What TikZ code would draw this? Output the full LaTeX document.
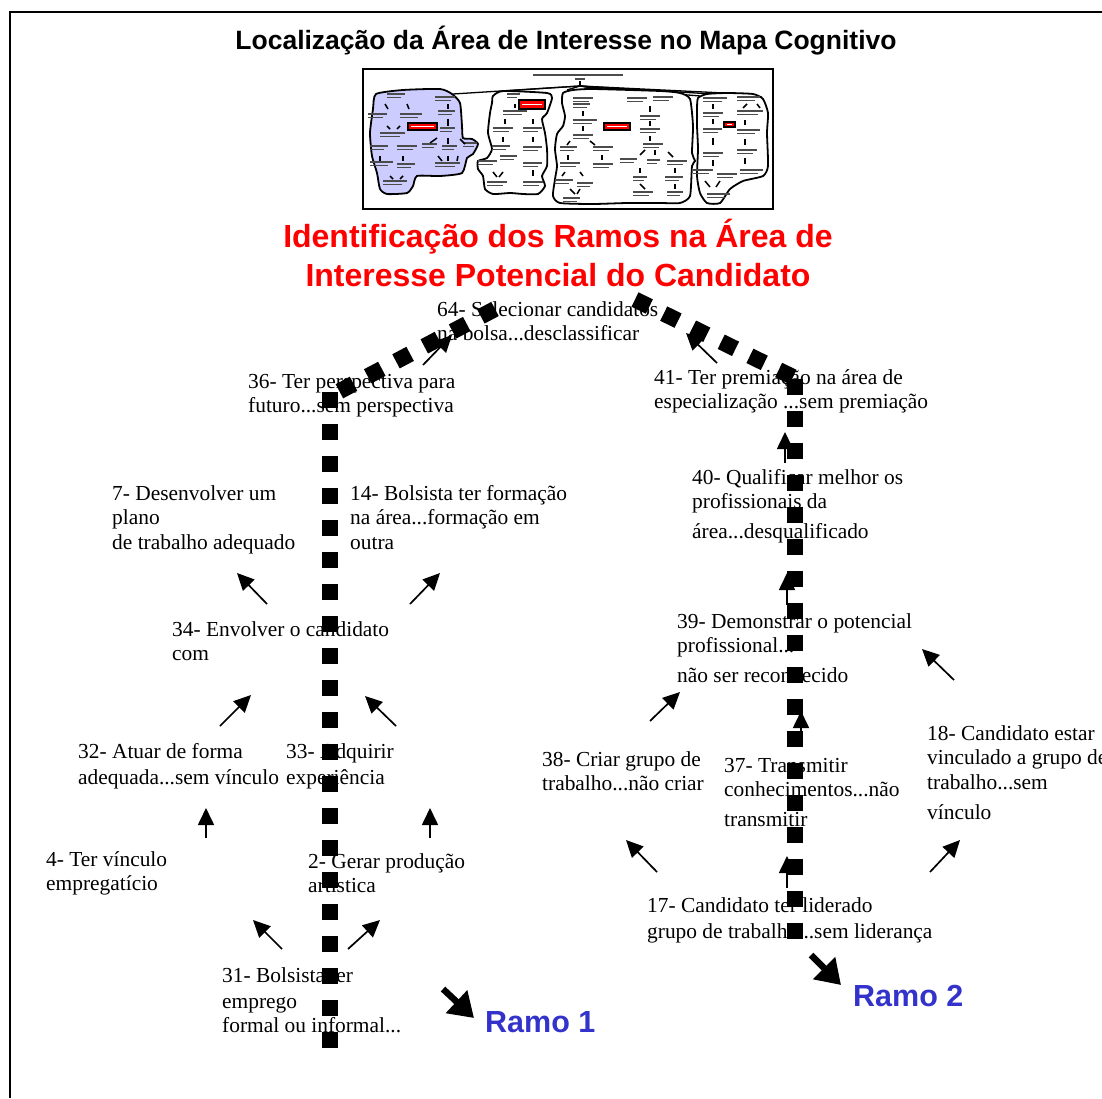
\documentclass[tikz,border=0pt]{standalone}
\usepackage{fontspec}
\setmainfont{Liberation Serif}
\newfontfamily\headfont{Liberation Sans}
\usetikzlibrary{arrows.meta}
\definecolor{ramoblue}{HTML}{3333CC}
\definecolor{areafill}{HTML}{CCCCFF}
\definecolor{headred}{HTML}{FF0000}
\newcommand{\conceptlines}[1]{\begin{tabular}[t]{@{}l@{}}#1\end{tabular}}
\tikzset{
  concept/.style={anchor=base west, inner sep=0pt, font=\fontsize{21.4}{24.5}\selectfont},
  link/.style={line width=1.7pt, -{Triangle[length=17pt,width=16pt]}},
  ramolink/.style={line width=6.5pt, -{Triangle[length=24pt,width=30pt]}},
  ramolabel/.style={anchor=base west, inner sep=0pt, text=ramoblue, font=\headfont\bfseries\fontsize{30.5}{34}\selectfont},
  branchpath/.style={line width=16pt, dash pattern=on 16pt off 16pt},
  maptext/.style={black!70, line width=1.1pt},
  mapstroke/.style={black, line width=1.5pt},
  region/.style={draw=black, line width=1.8pt},
}
\begin{document}
\begin{tikzpicture}[x=1pt, y=-1pt]
\useasboundingbox (0,0) rectangle (1102,1098);

% outer frame (left and top edges)
\draw[line width=2pt] (10,1098) -- (10,12) -- (1102,12);

% headings
\node[anchor=base, inner sep=0pt, font=\headfont\bfseries\fontsize{26.5}{30}\selectfont] (maptitle) at (566,49.5) {Localização da Área de Interesse no Mapa Cognitivo};
\node[anchor=base, inner sep=0pt, text=headred, font=\headfont\bfseries\fontsize{32}{39}\selectfont, align=center] (branchtitle) at (558,286.5) {Identificação dos Ramos na Área de\\Interesse Potencial do Candidato};

% ---------- overview map ----------
\draw[line width=1.8pt] (363,69) rectangle (773,209);
% map heading
\draw[maptext, line width=1.6pt] (533,75) -- (623,75);
\draw[maptext] (575,79) -- (585,79);
\draw[mapstroke] (580,81) -- (580,87);
% fan of links from the heading
\coordinate (hub) at (580,86);
\foreach \ex/\ey in {453/94, 503/91, 567/90, 635/95, 655/96, 700/96, 745/94, 762/97}
  \draw[black, line width=1.3pt] (hub) -- (\ex,\ey);
% regions
\draw[region, fill=areafill] plot[smooth cycle, tension=0.35] coordinates {
  (376,94) (403,90) (440,89) (452,94) (460,103) (462,126) (463,138) (472,139) (478,144)
  (473,154) (467,158) (462,173) (440,176) (417,176) (413,186) (407,193) (387,194)
  (380,189) (377,173) (372,156) (370,133) (373,109)};
\draw[region, fill=white] plot[smooth cycle, tension=0.35] coordinates {
  (493,96) (503,91) (547,93) (552,98) (547,113) (542,119) (545,133) (547,149) (547,166)
  (542,176) (545,186) (538,194) (523,194) (510,193) (493,194) (485,189) (483,176)
  (478,169) (478,161) (487,158) (492,149) (488,133) (490,113) (492,103)};
\draw[region, fill=white] plot[smooth cycle, tension=0.35] coordinates {
  (563,93) (573,90) (593,89) (660,91) (680,93) (690,99) (693,126) (692,153) (695,161)
  (692,166) (690,196) (680,203) (660,203) (627,203) (593,204) (560,203) (553,196)
  (555,179) (557,166) (555,149) (557,134) (563,126) (565,116) (562,103)};
\draw[region, fill=white] plot[smooth cycle, tension=0.35] coordinates {
  (698,98) (707,94) (727,93) (753,94) (763,99) (768,113) (767,133) (768,166) (763,176)
  (743,181) (730,189) (720,203) (707,203) (700,193) (697,176) (698,149) (697,126) (697,109)};
% tiny labels inside the regions
\foreach \xa/\xb/\yy in {
  387/405/94, 368/387/114, 400/422/114, 380/405/133, 370/388/146, 397/417/146,
  370/393/162, 397/415/164, 383/407/181, 435/455/97, 438/455/111, 440/455/128,
  422/437/144, 442/457/146, 463/477/143, 435/460/163,
  507/520/94, 503/527/111, 493/513/128, 523/542/128, 492/510/146, 523/542/147,
  478/497/161, 500/517/156, 523/542/163, 487/507/182, 523/543/182,
  573/593/98, 573/590/104, 573/597/120, 573/593/135, 560/577/147, 593/613/147,
  560/580/163, 593/613/164, 555/573/180, 577/593/183, 563/580/198, 627/647/98,
  653/673/97, 640/660/116, 640/660/129, 643/663/144, 620/637/159, 647/660/160,
  667/687/161, 633/647/177, 665/683/177, 633/653/192, 667/683/192,
  703/727/98, 737/760/97, 703/723/113, 737/763/111, 703/722/129, 737/760/130,
  703/723/153, 737/757/150, 693/713/170, 717/737/174, 740/763/170, 707/730/194}
{
  \draw[maptext] (\xa,\yy) -- (\xb,\yy);
  \draw[maptext] (\xa,\yy+3.5) -- ({\xa+0.8*(\xb-\xa)},\yy+3.5);
}
% tiny links inside the regions
\foreach \xa/\ya/\xb/\yb in {
  385/104/388/109, 407/104/409/109, 387/126/390/129, 400/126/397/129,
  380/156/380/161, 403/156/403/161, 390/176/393/179, 403/176/400/179,
  448/104/448/109, 448/119/448/126, 437/138/430/143, 448/138/448/144,
  460/139/465/144, 438/156/442/161, 448/156/448/161, 458/156/457/161,
  515/104/515/108, 505/119/505/124, 533/119/533/124, 503/137/503/142,
  533/137/533/142, 533/170/533/176, 493/172/497/177, 503/172/499/177,
  583/111/583/116, 583/126/583/131, 570/141/567/145, 590/141/595/145,
  568/155/568/160, 602/155/602/160, 565/172/562/176, 580/172/583/176,
  570/189/575/194, 580/189/577/194, 650/106/650/112, 650/121/650/126,
  650/136/650/141, 645/150/640/155, 655/150/655/155, 668/152/673/157,
  640/168/640/173, 675/168/675/173, 640/184/645/189, 675/184/675/189,
  713/104/713/109, 747/104/743/108, 757/104/760/108, 713/119/713/124,
  745/120/745/125, 713/138/713/145, 745/139/745/145, 713/160/713/166,
  745/158/745/164, 705/181/710/187, 720/181/716/187}
  \draw[mapstroke] (\xa,\ya) -- (\xb,\yb);
% highlighted concepts
\foreach \xa/\ya/\xb/\yb in {408/123/437/130, 519/100/545/109, 604/123/630/130, 724/122/735/127}
{
  \draw[black, line width=1.3pt, fill=red] (\xa,\ya) rectangle (\xb,\yb);
  \draw[white, line width=1pt] ({\xa+3},{(\ya+\yb)/2}) -- ({\xb-3},{(\ya+\yb)/2});
}

% ---------- concepts ----------
\node[concept] (c64) at (437,316) {\conceptlines{64- Selecionar candidatos\\na bolsa...desclassificar}};
\node[concept] (c36) at (248,388) {\conceptlines{36- Ter perspectiva para\\futuro...sem perspectiva}};
\node[concept] (c41) at (654,384) {\conceptlines{41- Ter premiação na área de\\especialização ...sem premiação}};
\node[concept] (c40) at (692,484) {\conceptlines{40- Qualificar melhor os\\profissionais da\\[5.5pt]área...desqualificado}};
\node[concept] (c7) at (112,500) {\conceptlines{7- Desenvolver um\\plano\\de trabalho adequado}};
\node[concept] (c14) at (350,500) {\conceptlines{14- Bolsista ter formação\\na área...formação em\\outra}};
\node[concept] (c34) at (172,636) {\conceptlines{34- Envolver o candidato\\com}};
\node[concept] (c39) at (677,628) {\conceptlines{39- Demonstrar o potencial\\profissional...\\[5.5pt]não ser reconhecido}};
\node[concept] (c32) at (78,758) {\conceptlines{32- Atuar de forma\\[1.5pt]adequada...sem vínculo}};
\node[concept] (c33) at (286,758) {\conceptlines{33- Adquirir\\[1.5pt]experiência}};
\node[concept] (c38) at (542,766) {\conceptlines{38- Criar grupo de\\trabalho...não criar}};
\node[concept] (c37) at (724,772) {\conceptlines{37- Transmitir\\conhecimentos...não\\[5.5pt]transmitir}};
\node[concept] (c18) at (927,740) {\conceptlines{18- Candidato estar\\vinculado a grupo de\\trabalho...sem\\[5.5pt]vínculo}};
\node[concept] (c4) at (46,866) {\conceptlines{4- Ter vínculo\\empregatício}};
\node[concept] (c2) at (308,868) {\conceptlines{2- Gerar produção\\artística}};
\node[concept] (c31) at (222,982) {\conceptlines{31- Bolsista ter\\[1.5pt]emprego\\formal ou informal...}};
\node[concept] (c17) at (647,912) {\conceptlines{17- Candidato ter liderado\\[1.5pt]grupo de trabalho...sem liderança}};

\node[ramolabel] (ramo1) at (485,1032) {Ramo 1};
\node[ramolabel] (ramo2) at (853,1006) {Ramo 2};

% ---------- link end points ----------
\coordinate (l36a) at (423,365); \coordinate (l36b) at (452,335);
\coordinate (l41a) at (717,363); \coordinate (l41b) at (686,333);
\coordinate (l40a) at (785,463); \coordinate (l40b) at (785,432);
\coordinate (l39a) at (787,605); \coordinate (l39b) at (787,573);
\coordinate (l347a) at (267,604); \coordinate (l347b) at (237,573);
\coordinate (l3414a) at (410,604); \coordinate (l3414b) at (440,573);
\coordinate (l32a) at (220,726); \coordinate (l32b) at (251,695);
\coordinate (l33a) at (396,726); \coordinate (l33b) at (365,696);
\coordinate (l4a) at (206,838); \coordinate (l4b) at (206,808);
\coordinate (l2a) at (430,838); \coordinate (l2b) at (430,808);
\coordinate (l314a) at (282,949); \coordinate (l314b) at (253,920);
\coordinate (l312a) at (348,949); \coordinate (l312b) at (380,920);
\coordinate (l38a) at (650,721); \coordinate (l38b) at (680,692);
\coordinate (l37a) at (801,742); \coordinate (l37b) at (801,711);
\coordinate (l18a) at (954,680); \coordinate (l18b) at (922,649);
\coordinate (l1738a) at (657,872); \coordinate (l1738b) at (626,840);
\coordinate (l1737a) at (787,888); \coordinate (l1737b) at (787,856);
\coordinate (l1718a) at (930,872); \coordinate (l1718b) at (960,840);
\coordinate (r1a) at (443,989); \coordinate (r1b) at (474,1018);
\coordinate (r2a) at (811,955); \coordinate (r2b) at (841,985);

% ---------- links ----------
\foreach \a/\b in {l36a/l36b, l41a/l41b, l40a/l40b, l39a/l39b, l347a/l347b, l3414a/l3414b,
  l32a/l32b, l33a/l33b, l4a/l4b, l2a/l2b, l314a/l314b, l312a/l312b, l38a/l38b,
  l37a/l37b, l18a/l18b, l1738a/l1738b, l1737a/l1737b, l1718a/l1718b}
  \draw[link] (\a) -- (\b);
\draw[ramolink] (r1a) -- (r1b);
\draw[ramolink] (r2a) -- (r2b);

% ---------- branch paths ----------
\coordinate (b1top) at (495,309); \coordinate (b1bend) at (338,392);
\coordinate (b1vtop) at (330,392); \coordinate (b1end) at (330,1048);
\coordinate (b2top) at (635,299.5); \coordinate (b2bend) at (793,377);
\coordinate (b2vtop) at (795,379); \coordinate (b2end) at (795,939);
\draw[branchpath] (b1top) -- (b1bend);
\draw[branchpath] (b1vtop) -- (b1end);
\draw[branchpath] (b2top) -- (b2bend);
\draw[branchpath] (b2vtop) -- (b2end);
\end{tikzpicture}
\end{document}
